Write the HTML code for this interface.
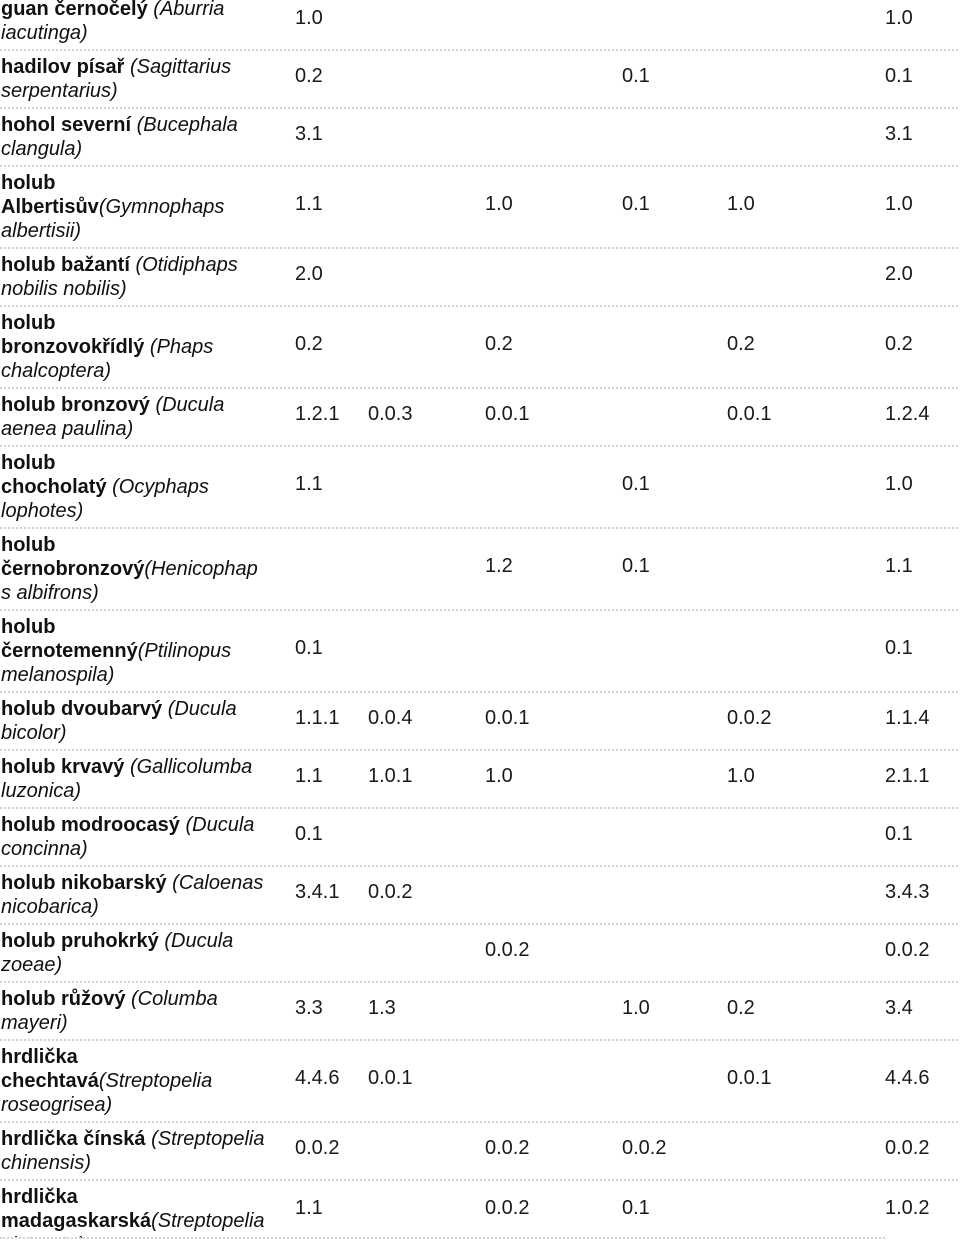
<!DOCTYPE html>
<html><head><meta charset="utf-8">
<style>
body{margin:0;width:960px;height:1246px;overflow:hidden;background:#fff;font-family:"Liberation Sans",Arial,sans-serif;color:#111;position:relative}
.row{position:absolute;left:0;width:960px;overflow:hidden}
.sep{position:absolute;left:0;height:0;border-top:2px dotted #d6d6c0}
.lab{position:absolute;left:1px;width:290px;font-size:20px;line-height:24px;white-space:nowrap}
.lab b{font-weight:bold}
.lab i{font-style:italic}
.val{position:absolute;font-size:20px;line-height:24px;color:#1a1a1a;white-space:nowrap}
</style></head><body>
<div id="tbl"></div>
<script>
const labels=[
 ['<b>guan černočelý</b> <i>(Aburria</i>','<i>iacutinga)</i>'],
 ['<b>hadilov písař</b> <i>(Sagittarius</i>','<i>serpentarius)</i>'],
 ['<b>hohol severní</b> <i>(Bucephala</i>','<i>clangula)</i>'],
 ['<b>holub</b>','<b>Albertisův</b><i>(Gymnophaps</i>','<i>albertisii)</i>'],
 ['<b>holub bažantí</b> <i>(Otidiphaps</i>','<i>nobilis nobilis)</i>'],
 ['<b>holub</b>','<b>bronzovokřídlý</b> <i>(Phaps</i>','<i>chalcoptera)</i>'],
 ['<b>holub bronzový</b> <i>(Ducula</i>','<i>aenea paulina)</i>'],
 ['<b>holub</b>','<b>chocholatý</b> <i>(Ocyphaps</i>','<i>lophotes)</i>'],
 ['<b>holub</b>','<b>černobronzový</b><i>(Henicophap</i>','<i>s albifrons)</i>'],
 ['<b>holub</b>','<b>černotemenný</b><i>(Ptilinopus</i>','<i>melanospila)</i>'],
 ['<b>holub dvoubarvý</b> <i>(Ducula</i>','<i>bicolor)</i>'],
 ['<b>holub krvavý</b> <i>(Gallicolumba</i>','<i>luzonica)</i>'],
 ['<b>holub modroocasý</b> <i>(Ducula</i>','<i>concinna)</i>'],
 ['<b>holub nikobarský</b> <i>(Caloenas</i>','<i>nicobarica)</i>'],
 ['<b>holub pruhokrký</b> <i>(Ducula</i>','<i>zoeae)</i>'],
 ['<b>holub růžový</b> <i>(Columba</i>','<i>mayeri)</i>'],
 ['<b>hrdlička</b>','<b>chechtavá</b><i>(Streptopelia</i>','<i>roseogrisea)</i>'],
 ['<b>hrdlička čínská</b> <i>(Streptopelia</i>','<i>chinensis)</i>'],
 ['<b>hrdlička</b>','<b>madagaskarská</b><i>(Streptopelia</i>','<i>picturata)</i>']
];
const values=[
 ['1.0','','','','','1.0'],
 ['0.2','','','0.1','','0.1'],
 ['3.1','','','','','3.1'],
 ['1.1','','1.0','0.1','1.0','1.0'],
 ['2.0','','','','','2.0'],
 ['0.2','','0.2','','0.2','0.2'],
 ['1.2.1','0.0.3','0.0.1','','0.0.1','1.2.4'],
 ['1.1','','','0.1','','1.0'],
 ['','','1.2','0.1','','1.1'],
 ['0.1','','','','','0.1'],
 ['1.1.1','0.0.4','0.0.1','','0.0.2','1.1.4'],
 ['1.1','1.0.1','1.0','','1.0','2.1.1'],
 ['0.1','','','','','0.1'],
 ['3.4.1','0.0.2','','','','3.4.3'],
 ['','','0.0.2','','','0.0.2'],
 ['3.3','1.3','','1.0','0.2','3.4'],
 ['4.4.6','0.0.1','','','0.0.1','4.4.6'],
 ['0.0.2','','0.0.2','0.0.2','','0.0.2'],
 ['1.1','','0.0.2','0.1','','1.0.2']
];
const bottoms=[50,108,166,248,306,388,446,528,610,692,750,808,866,924,982,1040,1122,1180,1238];
const colX=[295,368,485,622,727,885];
const tbl=document.getElementById('tbl');
let rowTop=-8;
labels.forEach((lines,i)=>{
  const h=bottoms[i]-rowTop;
  const r=document.createElement('div');
  r.className='row';
  
  
  r.style.top=rowTop+'px';r.style.height=h+'px';
  const l=document.createElement('div');
  l.className='lab';
  
  
  l.style.top='5px';
  l.innerHTML=lines.join('<br>');
  r.appendChild(l);
  const center=(i===18)?28:h/2-3;
  values[i].forEach((v,c)=>{
    if(!v)return;
    const d=document.createElement('div');
    d.className='val';
    
    
    d.style.left=colX[c]+'px';d.style.top=(center-12)+'px';
    d.textContent=v;
    r.appendChild(d);
  });
  tbl.appendChild(r);
  const s=document.createElement('div');
  s.className='sep';
  
  
  s.style.top=(bottoms[i]-1)+'px';
  s.style.width=(i===18?885:958)+'px';
  tbl.appendChild(s);
  rowTop=bottoms[i];
});
</script>
</body></html>
